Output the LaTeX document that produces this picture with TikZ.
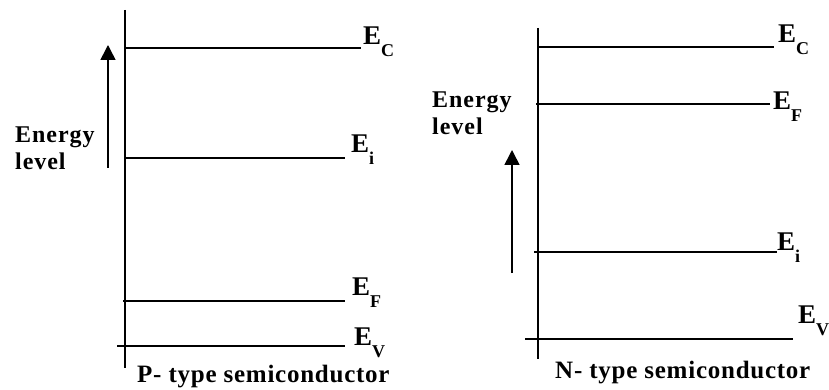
\documentclass[tikz,border=0pt]{standalone}
\usepackage{fontspec}
\setmainfont{Liberation Serif}
\newfontfamily\wideserif[LetterSpace=4]{Liberation Serif}
\newfontfamily\capserif[LetterSpace=3]{Liberation Serif}
\usetikzlibrary{arrows.meta,positioning}
\definecolor{ink}{RGB}{0,0,0}
\newcommand{\lvl}[1]{E\raisebox{-12pt}{\fontsize{18}{18}\selectfont #1}}
\tikzset{
  >={Triangle[length=15pt,width=15pt]},
  vaxis/.style={line width=1.6pt,draw=ink},
  band/.style={line width=1.2pt,draw=ink},
  rise/.style={->,line width=1.6pt,draw=ink},
  lvlname/.style={anchor=base west,inner sep=0pt,text=ink,
    font=\fontsize{27}{27}\selectfont\bfseries},
  energy/.style={anchor=base west,inner sep=0pt,align=left,text=ink,
    font=\wideserif\fontsize{24}{27}\selectfont\bfseries},
  typename/.style={anchor=base west,inner sep=0pt,text=ink,
    font=\capserif\fontsize{25}{25}\selectfont\bfseries},
}
\begin{document}
\begin{tikzpicture}[x=1pt,y=-1pt]
  \useasboundingbox (0,0) rectangle (829,390);
  % P-type
  \coordinate (pTop) at (125,10);
  \coordinate (pBot) at (125,368);
  \draw[vaxis] (pTop) -- (pBot);
  \draw[band] (125,48) coordinate (pC0) -- (361,48) coordinate (pC1);
  \draw[band] (125,158) coordinate (pI0) -- (345,158) coordinate (pI1);
  \draw[band] (123,301) coordinate (pF0) -- (345,301) coordinate (pF1);
  \draw[band] (117,346) coordinate (pV0) -- (345,346) coordinate (pV1);
  \node[lvlname] (pEc) at (363,45) {\lvl{C}};
  \node[lvlname] (pEi) at (351,153) {\lvl{i}};
  \node[lvlname] (pEf) at (352,295) {\lvl{F}};
  \node[lvlname] (pEv) at (354,345) {\lvl{V}};
  \coordinate (pArrowS) at (108,168);
  \coordinate (pArrowE) at (108,45);
  \draw[rise] (pArrowS) -- (pArrowE);
  \node[energy] (pEnergy) at (15,170) {Energy\\level};
  \node[typename] (pName) at (137,382) {P- type semiconductor};
  % N-type
  \coordinate (nTop) at (538,28);
  \coordinate (nBot) at (538,359);
  \draw[vaxis] (nTop) -- (nBot);
  \draw[band] (538,47) coordinate (nC0) -- (774,47) coordinate (nC1);
  \draw[band] (536,104) coordinate (nF0) -- (770,104) coordinate (nF1);
  \draw[band] (534,252) coordinate (nI0) -- (777,252) coordinate (nI1);
  \draw[band] (525,339) coordinate (nV0) -- (793,339) coordinate (nV1);
  \node[lvlname] (nEc) at (778,43) {\lvl{C}};
  \node[lvlname] (nEf) at (773,110) {\lvl{F}};
  \node[lvlname] (nEi) at (777,250) {\lvl{i}};
  \node[lvlname] (nEv) at (798,323) {\lvl{V}};
  \coordinate (nArrowS) at (512,273);
  \coordinate (nArrowE) at (512,150);
  \draw[rise] (nArrowS) -- (nArrowE);
  \node[energy] (nEnergy) at (432,135) {Energy\\level};
  \node[typename] (nName) at (555,378) {N- type semiconductor};
\end{tikzpicture}
\end{document}
